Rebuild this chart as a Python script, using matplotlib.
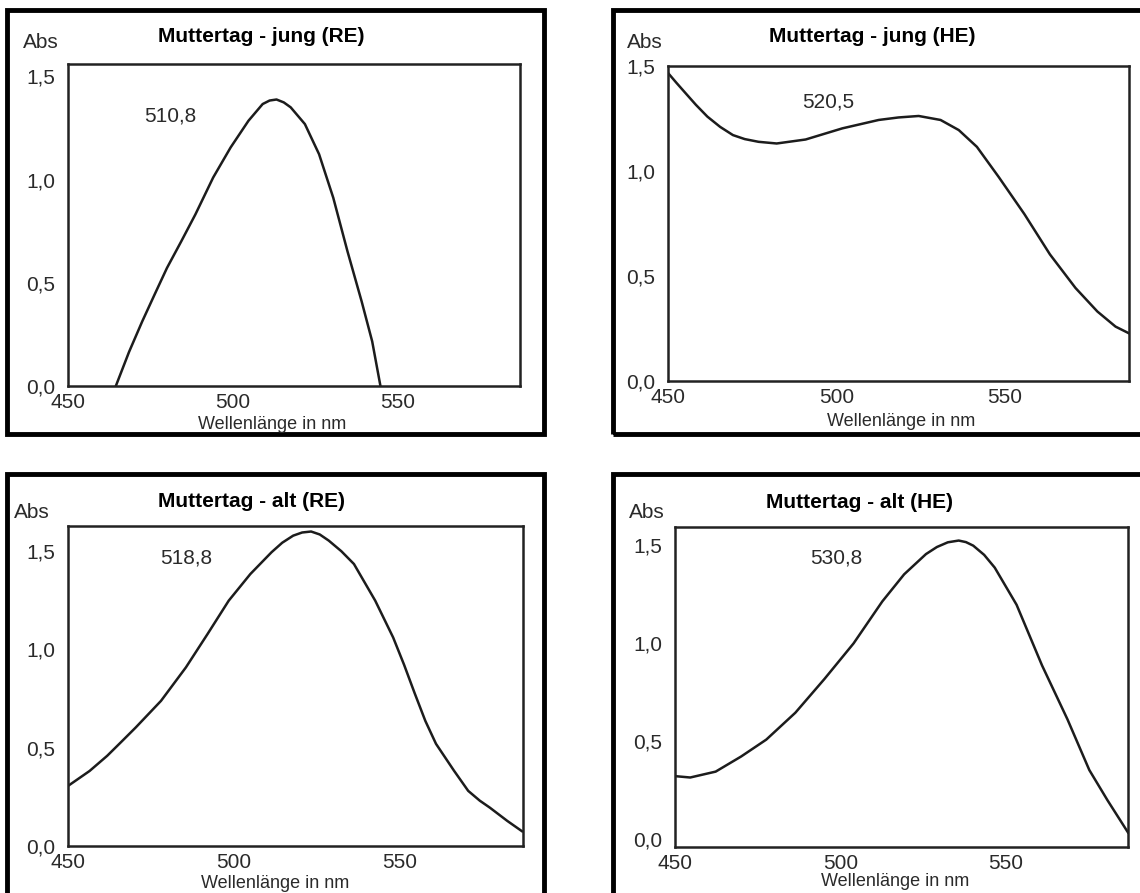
import numpy as np
import matplotlib
matplotlib.use('Agg')
import matplotlib.pyplot as plt
from matplotlib.patches import Rectangle

plt.rcParams['font.family'] = ['Liberation Sans', 'DejaVu Sans']

# spectra (wavelength nm, absorbance)
jung_re_nm = [464.5, 468.5, 472.5, 476.3, 480.0, 484.3, 488.6, 494.0, 499.3, 504.7,
              509.0, 511.1, 513.2, 515.4, 517.5, 521.8, 526.1, 530.4, 534.7, 539.0,
              542.2, 544.7]
jung_re_abs = [0.0, 0.165, 0.313, 0.445, 0.572, 0.70, 0.831, 1.01, 1.156, 1.285,
               1.366, 1.383, 1.388, 1.374, 1.35, 1.269, 1.123, 0.912, 0.653, 0.41,
               0.216, 0.0]

jung_he_nm = [450.0, 452.5, 455.2, 458.3, 461.7, 465.5, 469.3, 472.8, 476.9, 482.3,
              490.9, 501.8, 512.6, 518.5, 524.5, 531.0, 536.4, 541.8, 548.3, 555.9,
              563.5, 571.1, 577.6, 583.0, 587.0]
jung_he_abs = [1.467, 1.42, 1.371, 1.315, 1.259, 1.21, 1.171, 1.152, 1.139, 1.131,
               1.150, 1.203, 1.243, 1.255, 1.262, 1.243, 1.195, 1.115, 0.971, 0.795,
               0.603, 0.443, 0.331, 0.259, 0.227]

alt_re_nm = [450.0, 456.5, 461.8, 466.0, 470.4, 478.0, 485.5, 492.0, 498.4, 504.9,
             511.3, 514.5, 517.8, 520.5, 523.2, 525.8, 528.5, 532.3, 536.1, 542.5,
             547.9, 551.2, 554.4, 557.6, 560.8, 566.2, 570.5, 574.0, 577.0, 582.3,
             586.7]
alt_re_abs = [0.305, 0.381, 0.458, 0.528, 0.602, 0.737, 0.907, 1.076, 1.246, 1.381,
              1.492, 1.54, 1.576, 1.592, 1.597, 1.582, 1.551, 1.497, 1.432, 1.246,
              1.059, 0.92, 0.775, 0.635, 0.519, 0.383, 0.280, 0.230, 0.195, 0.127,
              0.075]

alt_he_nm = [450.0, 454.6, 462.3, 470.0, 477.6, 486.4, 495.2, 504.0, 512.7, 519.3,
             525.9, 529.2, 532.5, 535.8, 538.0, 540.2, 543.5, 546.7, 553.3, 561.0,
             568.7, 575.3, 580.8, 587.0]
alt_he_abs = [0.321, 0.314, 0.344, 0.421, 0.507, 0.644, 0.816, 0.997, 1.211, 1.349,
              1.452, 1.488, 1.512, 1.521, 1.513, 1.495, 1.448, 1.383, 1.194, 0.885,
              0.610, 0.352, 0.198, 0.034]

titles = ['Muttertag - jung (RE)', 'Muttertag - jung (HE)',
          'Muttertag - alt (RE)', 'Muttertag - alt (HE)']
peak_labels = ['510,8', '520,5', '518,8', '530,8']
x_ticks = [450, 500, 550]
x_tick_labels = ['450', '500', '550']
y_ticks = [0.0, 0.5, 1.0, 1.5]
y_tick_labels = ['0,0', '0,5', '1,0', '1,5']

W, H = 1140, 893
fig = plt.figure(figsize=(W / 100, H / 100), dpi=100)
fig.patch.set_facecolor('white')

def fx(x):
    return x / W

def fy(y):
    return 1 - y / H

# layout in pixels: axes box, outer frame, text anchors
panels = [
    dict(nm=jung_re_nm, ab=jung_re_abs, ylim=(0, 1.56),
         ax=(68, 64, 520, 386), box=(7, 10, 544, 434),
         title=(261, 37), abs_=(41, 42), peak=(480.9, 1.31), xlab=(272, 424)),
    dict(nm=jung_he_nm, ab=jung_he_abs, ylim=(0, 1.5),
         ax=(668, 66, 1129, 381), box=(613, 10, 1160, 434),
         title=(872, 37), abs_=(645, 42), peak=(497.6, 1.33), xlab=(901, 422)),
    dict(nm=alt_re_nm, ab=alt_re_abs, ylim=(0, 1.625),
         ax=(68, 526, 523, 846), box=(7, 474, 544, 910),
         title=(252, 502), abs_=(32, 512), peak=(485.5, 1.46), xlab=(275, 883)),
    dict(nm=alt_he_nm, ab=alt_he_abs, ylim=(-0.04, 1.59),
         ax=(675, 527, 1128, 847), box=(613, 474, 1160, 910),
         title=(860, 503), abs_=(647, 512), peak=(498.8, 1.43), xlab=(895, 882)),
]

ink = '#1c1c1c'
for i, p in enumerate(panels):
    x0, y0, x1, y1 = p['box']
    fig.patches.append(Rectangle((fx(x0), fy(y1)), (x1 - x0) / W, (y1 - y0) / H,
                                 transform=fig.transFigure, fill=False,
                                 lw=3.5, edgecolor='black', zorder=0))
    a0, b0, a1, b1 = p['ax']
    ax = fig.add_axes([fx(a0), fy(b1), (a1 - a0) / W, (b1 - b0) / H])
    ax.plot(p['nm'], p['ab'], color=ink, lw=1.8, solid_joinstyle='round')
    ax.set_xlim(450, 587)
    ax.set_ylim(*p['ylim'])
    ax.set_xticks(x_ticks)
    ax.set_xticklabels(x_tick_labels)
    ax.set_yticks(y_ticks)
    ax.set_yticklabels(y_tick_labels)
    ax.tick_params(length=0, labelsize=15, labelcolor='#2a2a2a')
    ax.tick_params(axis='y', pad=9)
    ax.tick_params(axis='x', pad=5)
    for s in ax.spines.values():
        s.set_linewidth(1.8)
        s.set_color('#222222')
    ax.text(p['peak'][0], p['peak'][1], peak_labels[i], fontsize=15,
            color='#2a2a2a', ha='center', va='center')
    fig.text(fx(p['title'][0]), fy(p['title'][1]), titles[i], fontsize=15,
             fontweight='bold', ha='center', va='center', color='black')
    fig.text(fx(p['abs_'][0]), fy(p['abs_'][1]), 'Abs', fontsize=15,
             ha='center', va='center', color='#2a2a2a')
    fig.text(fx(p['xlab'][0]), fy(p['xlab'][1]), 'Wellenlänge in nm', fontsize=13,
             ha='center', va='center', color='#2a2a2a')

fig.savefig('out.png', dpi=100, facecolor='white')
